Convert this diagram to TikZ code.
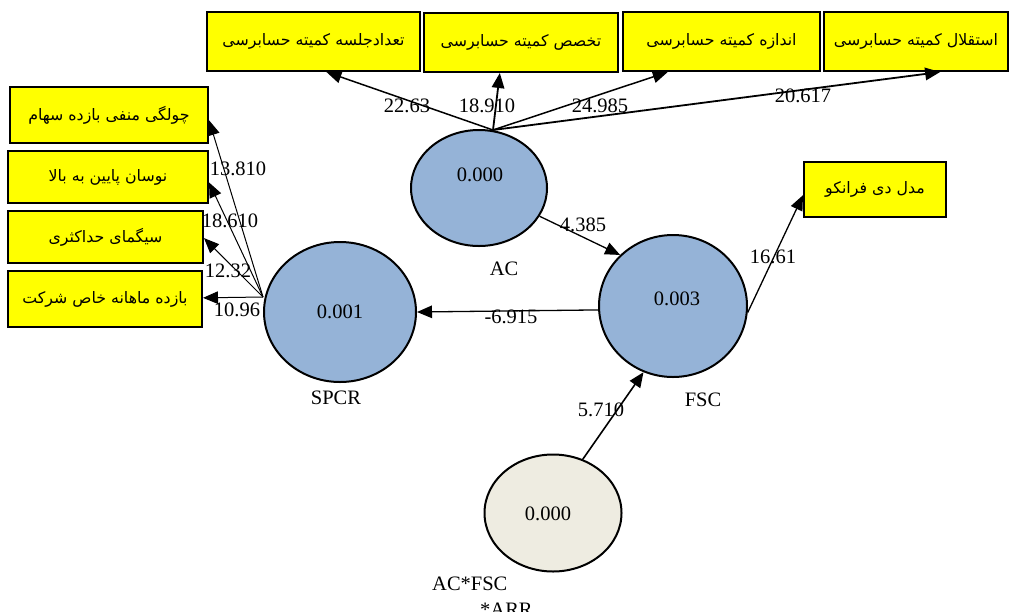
\documentclass[tikz,border=0pt]{standalone}
\usepackage{fontspec}
\setmainfont{Liberation Serif}
\newfontfamily\fafont[Script=Arabic]{DejaVu Sans}
\TeXXeTstate=1
\usetikzlibrary{arrows.meta,calc,shapes.geometric}
\definecolor{lvblue}{RGB}{149,179,215}
\definecolor{modfill}{RGB}{238,236,225}
\definecolor{boxyellow}{RGB}{255,255,0}
\tikzset{
  ibox/.style={draw=black,line width=2pt,fill=boxyellow,inner sep=0pt,font=\fafont\fontsize{15.8}{19}\selectfont},
  lv/.style={draw=black,line width=2pt,fill=lvblue,ellipse,inner sep=0pt},
  num/.style={inner sep=0pt,font=\fontsize{20.5}{26}\selectfont},
  arr/.style={-{Triangle[length=15pt,width=12.5pt]},line width=1.3pt},
}
\newcommand{\fa}[1]{\beginR #1\endR}
\begin{document}
\begin{tikzpicture}[x=1pt,y=-1pt]
\useasboundingbox (0,0) rectangle (1009,611);
% top indicator boxes
\node[ibox,minimum width=213pt,minimum height=59pt] (b1) at (313.5,41.5) {\fa{تعدادجلسه کمیته حسابرسی}};
\node[ibox,minimum width=194pt,minimum height=59pt] (b2) at (521,42.5) {\fa{تخصص کمیته حسابرسی}};
\node[ibox,minimum width=197pt,minimum height=59pt] (b3) at (721.5,41.5) {\fa{اندازه کمیته حسابرسی}};
\node[ibox,minimum width=184pt,minimum height=59pt] (b4) at (916,41.5) {\fa{استقلال کمیته حسابرسی}};
% left indicator boxes
\node[ibox,minimum width=198pt,minimum height=56pt] (l1) at (109,115) {\fa{چولگی منفی بازده سهام}};
\node[ibox,minimum width=200pt,minimum height=52pt] (l2) at (108,177) {\fa{نوسان پایین به بالا}};
\node[ibox,minimum width=195pt,minimum height=52pt] (l3) at (105.5,237) {\fa{سیگمای حداکثری}};
\node[ibox,minimum width=194pt,minimum height=56pt] (l4) at (105,299) {\fa{بازده ماهانه خاص شرکت}};
% right indicator box
\node[ibox,minimum width=142pt,minimum height=55pt] (r1) at (875,189.5) {\fa{مدل دی فرانکو}};
% latent variables
\node[lv,minimum width=136pt,minimum height=116pt] (ac) at (479,188) {};
\node[lv,minimum width=152pt,minimum height=140pt] (spcr) at (340,312) {};
\node[lv,minimum width=148pt,minimum height=142pt] (fsc) at (673,306) {};
\node[lv,fill=modfill,minimum width=137pt,minimum height=117pt] (mod) at (553,513) {};
% values inside
\node[num] (vac) at (480,175) {0.000};
\node[num] (vspcr) at (340,312) {0.001};
\node[num] (vfsc) at (677,299) {0.003};
\node[num] (vmod) at (548,514) {0.000};
% names
\node[num] (nac) at (504,269) {AC};
\node[num] (nspcr) at (336,398) {SPCR};
\node[num] (nfsc) at (703,400) {FSC};
\node[num,align=left,anchor=north west] (nmod) at (432,577) {AC*FSC\\\hspace*{48pt}*ARR};
% connectors
\coordinate (actop) at (493,130);
\coordinate (spl) at (263,297);
\draw[arr,line width=1.5pt] (actop) -- ($(b1.south west)!0.56!(b1.south east)$);
\draw[arr,line width=1.8pt] (actop) -- ($(b2.south west)!0.392!(b2.south east)$);
\draw[arr,line width=1.5pt] (actop) -- ($(b3.south west)!0.23!(b3.south east)$);
\draw[arr,line width=1.8pt] (actop) -- ($(b4.south west)!0.63!(b4.south east)$);
\draw[arr,line width=1pt] (spl) -- ($(l1.north east)!0.59!(l1.south east)$);
\draw[arr,line width=1pt] (spl) -- ($(l2.north east)!0.6!(l2.south east)$);
\draw[arr,line width=1pt] (spl) -- ($(l3.north east)!0.52!(l3.south east)$);
\draw[arr,line width=1pt] (spl) -- ($(l4.north east)!0.48!(l4.south east)$);
\draw[arr] (fsc.183) -- (spcr.east);
\draw[arr] (ac.-25) -- (fsc.136);
\draw[arr] (fsc.-5) -- ($(r1.north west)!0.6!(r1.south west)$);
\draw[arr,line width=1.6pt] (mod.61) -- (fsc.-114);
% path labels
\node[num] (p1) at (407,106) {22.63};
\node[num] (p2) at (487,106) {18.910};
\node[num] (p3) at (600,106) {24.985};
\node[num] (p4) at (803,96) {20.617};
\node[num] (p5) at (238,169) {13.810};
\node[num] (p6) at (230,221) {18.610};
\node[num] (p7) at (228,271) {12.32};
\node[num] (p8) at (237,310) {10.96};
\node[num] (p9) at (511,317) {-6.915};
\node[num] (p10) at (583,225) {4.385};
\node[num] (p11) at (773,257) {16.61};
\node[num] (p12) at (601,410) {5.710};
\end{tikzpicture}
\end{document}
